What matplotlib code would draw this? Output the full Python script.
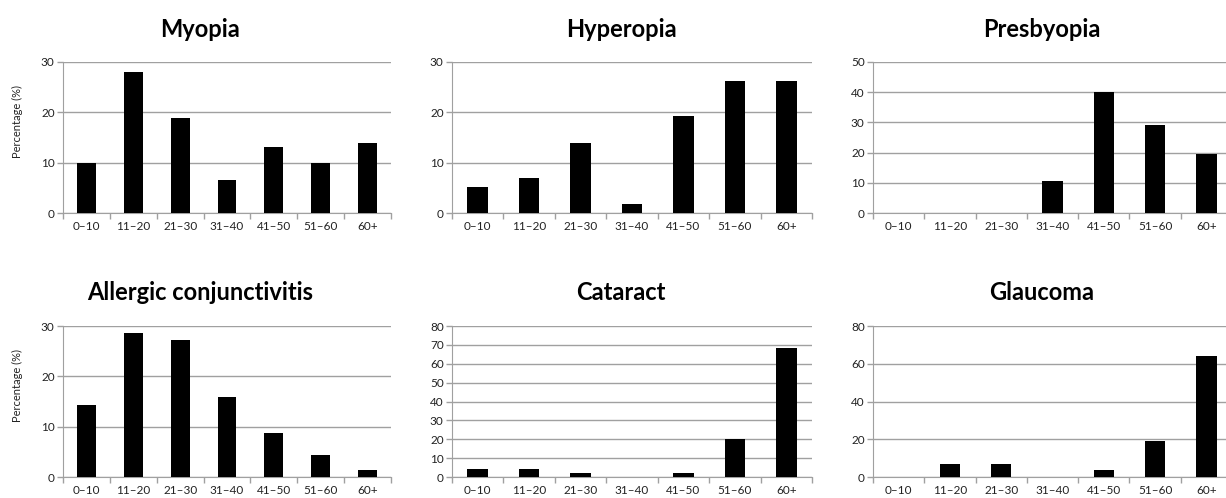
import matplotlib
matplotlib.use('Agg')
import matplotlib.pyplot as plt
import numpy as np

plt.rcParams['font.family'] = ['Lato', 'DejaVu Sans']

ages = ['0–10', '11–20', '21–30', '31–40', '41–50', '51–60', '60+']

myopia = [9.9, 28.0, 18.8, 6.6, 13.2, 9.9, 13.9]
hyperopia = [5.2, 6.9, 13.9, 1.8, 19.2, 26.2, 26.2]
presbyopia = [0, 0, 0, 10.6, 40.0, 29.2, 19.5]
allergic = [14.3, 28.7, 27.3, 15.8, 8.7, 4.3, 1.4]
cataract = [4.4, 4.4, 1.9, 0, 1.9, 20.0, 68.3]
glaucoma = [0, 6.9, 6.9, 0, 3.9, 19.3, 64.3]

titles = ['Myopia', 'Hyperopia', 'Presbyopia',
          'Allergic conjunctivitis', 'Cataract', 'Glaucoma']
series = [myopia, hyperopia, presbyopia, allergic, cataract, glaucoma]
ymax = [30, 30, 50, 30, 80, 80]
ystep = [10, 10, 10, 10, 10, 20]

W, H = 1226, 498
fig = plt.figure(figsize=(W / 100, H / 100), dpi=100)

# axes boxes in pixels: left, right, top, bottom
cols = [(63, 391), (452, 812), (873, 1232)]
rows = [(62, 213), (326, 477)]
title_x = [200, 621, 1042]
title_y = [29, 293]

GRID = '#a0a0a0'
x = np.arange(len(ages))

for k, (name, vals) in enumerate(zip(titles, series)):
    r, c = divmod(k, 3)
    l, rr = cols[c]
    t, b = rows[r]
    ax = fig.add_axes([l / W, 1 - b / H, (rr - l) / W, (b - t) / H])
    ax.bar(x, vals, width=0.4, color='black', zorder=3)
    ax.set_xlim(-0.5, len(ages) - 0.5)
    ax.set_ylim(0, ymax[k])
    ax.set_yticks(np.arange(0, ymax[k] + 1, ystep[k]))
    ax.yaxis.grid(True, color=GRID, linewidth=1)
    ax.set_axisbelow(True)
    ax.set_xticks(x)
    ax.set_xticklabels(ages, fontsize=8.5, color='#222222')
    ax.set_xticks(np.arange(-0.5, len(ages)), minor=True)
    ax.tick_params(axis='x', which='major', length=0, pad=6)
    ax.tick_params(axis='x', which='minor', length=4, color=GRID, width=1)
    ax.tick_params(axis='y', length=4, color=GRID, width=1, labelsize=8.5,
                   labelcolor='#222222', pad=2)
    for s in ['top', 'right']:
        ax.spines[s].set_visible(False)
    for s in ['left', 'bottom']:
        ax.spines[s].set_color(GRID)
    if c == 0:
        fig.text(17 / W, 1 - (t + 60) / H, 'Percentage (%)', rotation=90,
                 ha='center', va='center', fontsize=8, color='#222222')
    fig.text(title_x[c] / W, 1 - title_y[r] / H, name, ha='center',
             va='center', fontsize=17, fontweight='bold')

fig.savefig('out.png', dpi=100)
